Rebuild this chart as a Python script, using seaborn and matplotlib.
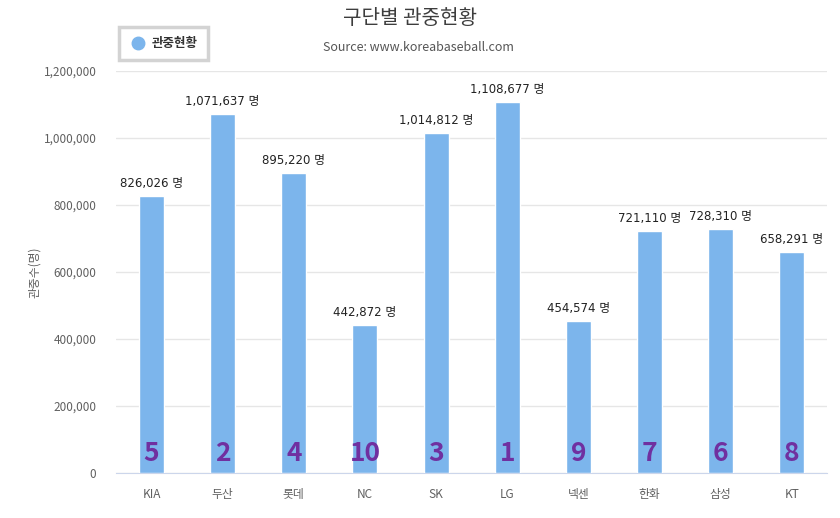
import pandas as pd
import numpy as np
import matplotlib
matplotlib.use('Agg')
from matplotlib import pyplot as plt
import seaborn as sns

# data
teams = ['KIA', '두산', '롯데', 'NC', 'SK', 'LG', '넥센', '한화', '삼성', 'KT']
attendance = [826026, 1071637, 895220, 442872, 1014812, 1108677, 454574, 721110, 728310, 658291]
ranks = [5, 2, 4, 10, 3, 1, 9, 7, 6, 8]
yticks = [0, 200000, 400000, 600000, 800000, 1000000, 1200000]

sns.set_style('white')
plt.rcParams['font.family'] = ['Noto Sans CJK KR', 'DejaVu Sans']

df = pd.DataFrame({'team': teams, 'attendance': attendance})

fig = plt.figure(figsize=(8.4, 5.18), dpi=100)
ax = fig.add_axes([0.138, 0.087, 0.847, 0.776])

sns.barplot(data=df, x='team', y='attendance', color='#7cb5ec', saturation=1,
            width=0.35, ax=ax, zorder=3)

ax.set_ylim(0, 1200000)
ax.set_xlim(-0.5, len(teams) - 0.5)
ax.set_yticks(yticks)
ax.set_yticklabels(['{:,}'.format(v) for v in yticks], color='#606060', fontsize=8.5)
ax.yaxis.grid(True, color='#e6e6e6', lw=1, zorder=0)
ax.tick_params(axis='y', length=0, pad=14)
ax.tick_params(axis='x', length=0, pad=11, labelsize=8.5, labelcolor='#606060')

# category boundary ticks
ax.set_xticks(np.arange(-0.5, len(teams)), minor=True)
ax.tick_params(axis='x', which='minor', length=8, color='#ccd6eb', width=1)

for s in ['top', 'right', 'left']:
    ax.spines[s].set_visible(False)
ax.spines['bottom'].set_color('#ccd6eb')

ax.set_xlabel('')
ax.set_ylabel('관중수(명)', color='#606060', fontsize=8.5, labelpad=2)

for i, (v, r) in enumerate(zip(attendance, ranks)):
    ax.text(i, v + 18000, '{:,} 명'.format(v), ha='center', va='bottom',
            fontsize=8.5, color='#222222', zorder=5,
            family=['DejaVu Sans', 'Noto Sans CJK KR'])
    ax.text(i, 18000, str(r), ha='center', va='bottom', fontsize=19,
            fontweight='bold', color='#7030a0', zorder=5)

fig.text(0.488, 0.965, '구단별 관중현황', ha='center', va='center',
         fontsize=14.5, color='#3d3d3d')
fig.text(0.498, 0.908, 'Source: www.koreabaseball.com', ha='center', va='center',
         fontsize=9, color='#555555')

leg = ax.legend(handles=[plt.Line2D([], [], marker='o', ls='', color='#7cb5ec', markersize=9)],
                labels=['관중현황'], loc='lower left', bbox_to_anchor=(-0.004, 1.012),
                frameon=True, fancybox=False, fontsize=9, handletextpad=0.4,
                borderpad=0.8, handlelength=1.4)
leg.get_frame().set_edgecolor('#c8c8c8')
leg.get_frame().set_linewidth(2.5)
for t in leg.get_texts():
    t.set_fontweight('bold')
    t.set_color('#333333')

fig.savefig('out.png', dpi=100)
